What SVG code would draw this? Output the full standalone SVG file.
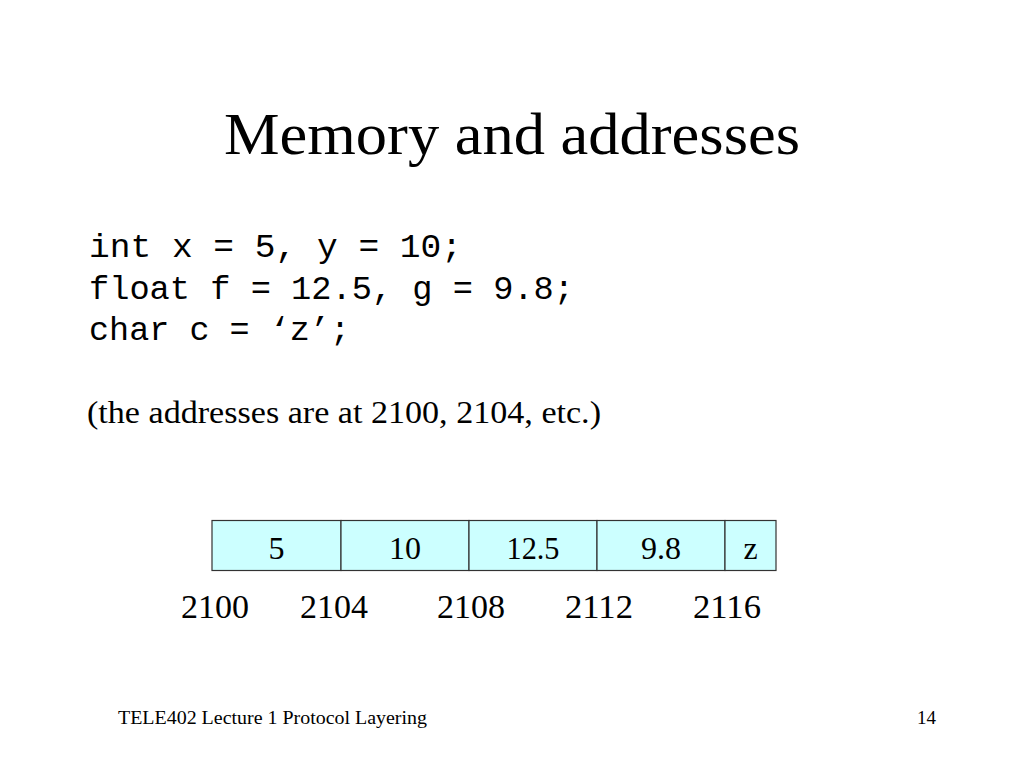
<svg xmlns="http://www.w3.org/2000/svg" width="1024" height="768" viewBox="0 0 1024 768">
<style>
.t{font-family:"Liberation Serif","Times New Roman",serif;fill:#000}
.m{font-family:"Liberation Mono","Courier New",monospace;fill:#000;font-size:33px}
.cell{fill:#ccffff;stroke:#333;stroke-width:1.2}
.c{font-size:32px;text-anchor:middle}
.a{font-size:33px}
</style>
<rect width="1024" height="768" fill="#fff"/>
<text class="t" x="512" y="154" font-size="60" text-anchor="middle" textLength="576" lengthAdjust="spacingAndGlyphs">Memory and addresses</text>
<g id="code">
<text class="m" x="89" y="257" textLength="373" lengthAdjust="spacingAndGlyphs">int x = 5, y = 10;</text>
<text class="m" x="89" y="299" textLength="485" lengthAdjust="spacingAndGlyphs">float f = 12.5, g = 9.8;</text>
<text class="m" x="89" y="340" textLength="261" lengthAdjust="spacingAndGlyphs">char c = ‘z’;</text>
</g>
<text class="t" x="87" y="423" font-size="31" textLength="514" lengthAdjust="spacingAndGlyphs">(the addresses are at 2100, 2104, etc.)</text>
<g id="cell-2100"><rect class="cell" x="212" y="520.5" width="129" height="50"/><text class="t c" x="276.5" y="559">5</text></g>
<g id="cell-2104"><rect class="cell" x="341" y="520.5" width="128" height="50"/><text class="t c" x="405" y="559">10</text></g>
<g id="cell-2108"><rect class="cell" x="469" y="520.5" width="128" height="50"/><text class="t c" x="533" y="559" textLength="53" lengthAdjust="spacingAndGlyphs">12.5</text></g>
<g id="cell-2112"><rect class="cell" x="597" y="520.5" width="128" height="50"/><text class="t c" x="661" y="559">9.8</text></g>
<g id="cell-2116"><rect class="cell" x="725" y="520.5" width="51" height="50"/><text class="t c" x="750.5" y="559">z</text></g>
<g id="addresses">
<text class="t a" x="181" y="618" textLength="68" lengthAdjust="spacingAndGlyphs">2100</text>
<text class="t a" x="300" y="618" textLength="68" lengthAdjust="spacingAndGlyphs">2104</text>
<text class="t a" x="437" y="618" textLength="68" lengthAdjust="spacingAndGlyphs">2108</text>
<text class="t a" x="565" y="618" textLength="68" lengthAdjust="spacingAndGlyphs">2112</text>
<text class="t a" x="693" y="618" textLength="68" lengthAdjust="spacingAndGlyphs">2116</text>
</g>
<g id="connectors"/>
<text class="t" x="118" y="724" font-size="19" textLength="309" lengthAdjust="spacingAndGlyphs">TELE402 Lecture 1 Protocol Layering</text>
<text class="t" x="936" y="724" font-size="19" text-anchor="end">14</text>
</svg>
